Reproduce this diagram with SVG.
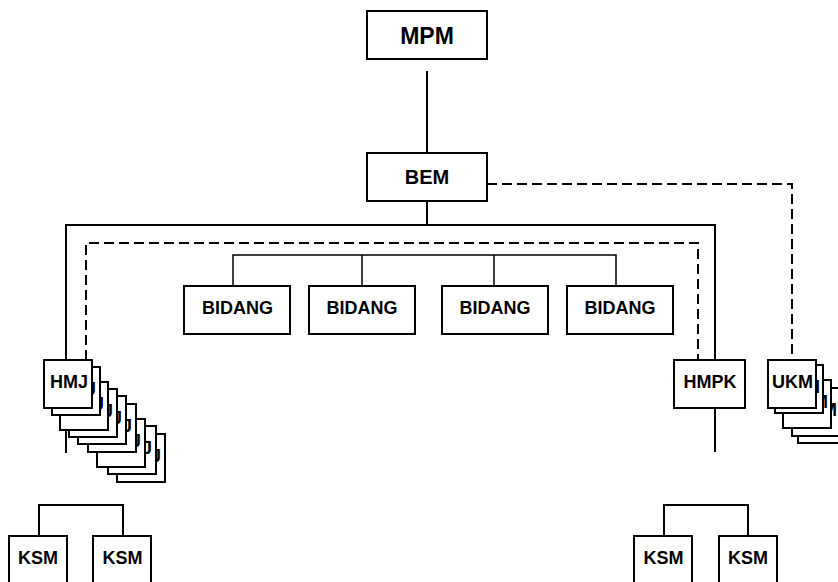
<svg xmlns="http://www.w3.org/2000/svg" width="838" height="582" viewBox="0 0 838 582">
<style>
.box{fill:#fff;stroke:#000;stroke-width:2}
.t{font-family:"Liberation Sans",Arial,sans-serif;font-weight:bold;font-size:18px;text-anchor:middle;fill:#000}
.ln{fill:none;stroke:#000;stroke-width:2}
.thin{fill:none;stroke:#000;stroke-width:1.5}
.dash{fill:none;stroke:#000;stroke-width:2;stroke-dasharray:10 5}
</style>
<defs>
<clipPath id="h2" clipPathUnits="userSpaceOnUse"><rect x="93" y="367" width="7" height="48"/></clipPath>
<clipPath id="h3" clipPathUnits="userSpaceOnUse"><rect x="101" y="382" width="7" height="48"/></clipPath>
<clipPath id="h4" clipPathUnits="userSpaceOnUse"><rect x="109" y="389" width="8" height="48"/></clipPath>
<clipPath id="h5" clipPathUnits="userSpaceOnUse"><rect x="118" y="396" width="8" height="48"/></clipPath>
<clipPath id="h6" clipPathUnits="userSpaceOnUse"><rect x="127" y="404" width="9" height="48"/></clipPath>
<clipPath id="h7" clipPathUnits="userSpaceOnUse"><rect x="137" y="419" width="8" height="48"/></clipPath>
<clipPath id="h8" clipPathUnits="userSpaceOnUse"><rect x="146" y="426" width="10" height="48"/></clipPath>
<clipPath id="h9" clipPathUnits="userSpaceOnUse"><rect x="157" y="434" width="8" height="48"/></clipPath>
<clipPath id="u2" clipPathUnits="userSpaceOnUse"><rect x="817" y="365" width="6" height="48"/></clipPath>
<clipPath id="u3" clipPathUnits="userSpaceOnUse"><rect x="824" y="380" width="7" height="48"/></clipPath>
<clipPath id="u4" clipPathUnits="userSpaceOnUse"><rect x="832" y="388" width="6" height="48"/></clipPath>
</defs>
<rect width="838" height="582" fill="#fff"/>
<g id="connectors">
<line class="ln" x1="427" y1="71" x2="427" y2="153"/>
<line class="ln" x1="427" y1="201" x2="427" y2="225"/>
<polyline class="ln" points="66,453 66,225 715,225 715,360"/>
<line class="ln" x1="715" y1="408" x2="715" y2="452"/>
<polyline class="dash" points="86,360 86,243 698,243 698,360"/>
<polyline class="dash" points="487,184 792,184 792,360"/>
<polyline class="thin" points="233,286 233,255 616,255 616,286"/>
<line class="thin" x1="362" y1="255" x2="362" y2="286"/>
<line class="thin" x1="494" y1="255" x2="494" y2="286"/>
<polyline class="ln" points="39,536 39,505 123,505 123,536"/>
<polyline class="ln" points="664,536 664,505 748,505 748,536"/>
</g>
<g id="mpm"><rect class="box" x="367" y="11" width="120" height="48"/><text class="t" x="427" y="44" style="font-size:23px">MPM</text></g>
<g id="bem"><rect class="box" x="367" y="153" width="120" height="48"/><text class="t" x="427" y="184" style="font-size:20px">BEM</text></g>
<g id="bidang1"><rect class="box" x="184" y="286" width="106" height="48"/><text class="t" x="237.5" y="314">BIDANG</text></g>
<g id="bidang2"><rect class="box" x="309" y="286" width="106" height="48"/><text class="t" x="362" y="314">BIDANG</text></g>
<g id="bidang3"><rect class="box" x="442" y="286" width="106" height="48"/><text class="t" x="495" y="314">BIDANG</text></g>
<g id="bidang4"><rect class="box" x="567" y="286" width="106" height="48"/><text class="t" x="620" y="314">BIDANG</text></g>
<g id="hmj">
<rect class="box" x="117" y="434" width="48" height="48"/><text class="t" x="142" y="462" clip-path="url(#h9)">HMJ</text>
<rect class="box" x="108" y="426" width="48" height="48"/><text class="t" x="133" y="454" clip-path="url(#h8)">HMJ</text>
<rect class="box" x="97" y="419" width="48" height="48"/><text class="t" x="122" y="447" clip-path="url(#h7)">HMJ</text>
<rect class="box" x="88" y="404" width="48" height="48"/><text class="t" x="113" y="432" clip-path="url(#h6)">HMJ</text>
<rect class="box" x="78" y="396" width="48" height="48"/><text class="t" x="103" y="424" clip-path="url(#h5)">HMJ</text>
<rect class="box" x="69" y="389" width="48" height="48"/><text class="t" x="94" y="417" clip-path="url(#h4)">HMJ</text>
<rect class="box" x="60" y="382" width="48" height="48"/><text class="t" x="85" y="410" clip-path="url(#h3)">HMJ</text>
<rect class="box" x="52" y="367" width="48" height="48"/><text class="t" x="77" y="395" clip-path="url(#h2)">HMJ</text>
<rect class="box" x="44" y="360" width="48" height="48"/><text class="t" x="69" y="388">HMJ</text>
</g>
<g id="hmpk"><rect class="box" x="674" y="360" width="71" height="48"/><text class="t" x="710" y="388">HMPK</text></g>
<g id="ukm">
<rect class="box" x="798" y="395" width="48" height="48"/>
<rect class="box" x="792" y="388" width="48" height="48"/><text class="t" x="816.5" y="416" clip-path="url(#u4)">UKM</text>
<rect class="box" x="783" y="380" width="48" height="48"/><text class="t" x="807.5" y="408" clip-path="url(#u3)">UKM</text>
<rect class="box" x="775" y="365" width="48" height="48"/><text class="t" x="799.5" y="393" clip-path="url(#u2)">UKM</text>
<rect class="box" x="768" y="360" width="48" height="48"/><text class="t" x="792.5" y="388">UKM</text>
</g>
<g id="ksm1"><rect class="box" x="9" y="536" width="58" height="52"/><text class="t" x="38" y="564">KSM</text></g>
<g id="ksm2"><rect class="box" x="93" y="536" width="58" height="52"/><text class="t" x="122.5" y="564">KSM</text></g>
<g id="ksm3"><rect class="box" x="634" y="536" width="58" height="52"/><text class="t" x="663.5" y="564">KSM</text></g>
<g id="ksm4"><rect class="box" x="719" y="536" width="58" height="52"/><text class="t" x="748" y="564">KSM</text></g>
</svg>
